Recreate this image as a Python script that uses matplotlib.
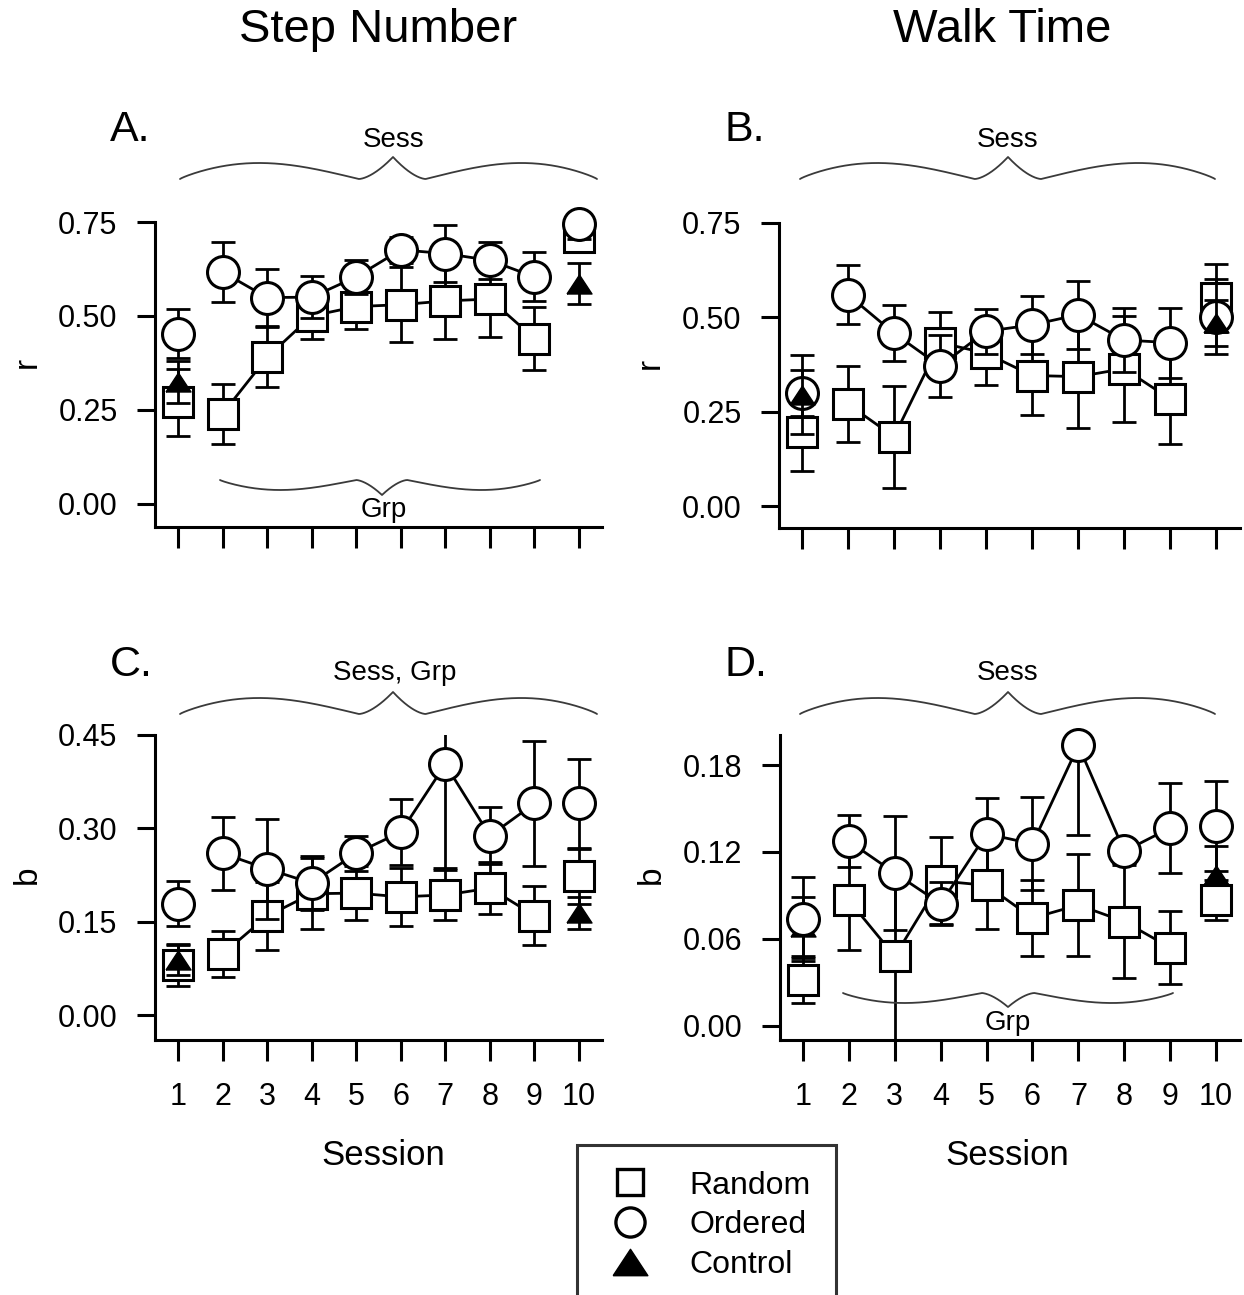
import numpy as np
import matplotlib
matplotlib.use('Agg')
import matplotlib.pyplot as plt
from matplotlib.lines import Line2D

plt.rcParams['font.family'] = ['Liberation Sans', 'DejaVu Sans']

# ---------------- data ----------------
sessions = [1, 2, 3, 4, 5, 6, 7, 8, 9, 10]
control_sessions = [1, 10]

# A. Step Number, r
stepR_random = [0.27, 0.24, 0.39, 0.50, 0.525, 0.53, 0.54, 0.545, 0.44, 0.71]
stepR_random_err = [0.09, 0.08, 0.08, 0.06, 0.06, 0.10, 0.10, 0.10, 0.085, 0.04]
stepR_ordered = [0.453, 0.617, 0.549, 0.55, 0.604, 0.676, 0.666, 0.648, 0.604, 0.746]
stepR_ordered_err = [0.065, 0.08, 0.075, 0.055, 0.045, 0.035, 0.075, 0.05, 0.065, 0.04]
stepR_control = [0.324, 0.586]
stepR_control_err = [0.055, 0.055]

# B. Walk Time, r
walkR_random = [0.197, 0.27, 0.184, 0.433, 0.405, 0.346, 0.343, 0.364, 0.284, 0.551]
walkR_random_err = [0.105, 0.10, 0.135, 0.08, 0.085, 0.105, 0.135, 0.14, 0.12, 0.09]
walkR_ordered = [0.30, 0.56, 0.458, 0.371, 0.463, 0.48, 0.507, 0.44, 0.433, 0.502]
walkR_ordered_err = [0.06, 0.078, 0.074, 0.083, 0.06, 0.077, 0.09, 0.085, 0.093, 0.10]
walkR_control = [0.295, 0.485]
walkR_control_err = [0.105, 0.06]

# C. Step Number, b
stepB_random = [0.080, 0.098, 0.159, 0.195, 0.196, 0.190, 0.193, 0.204, 0.160, 0.223]
stepB_random_err = [0.033, 0.037, 0.055, 0.057, 0.044, 0.047, 0.040, 0.042, 0.048, 0.044]
stepB_ordered = [0.179, 0.260, 0.235, 0.212, 0.260, 0.294, 0.403, 0.288, 0.340, 0.340]
stepB_ordered_err = [0.036, 0.059, 0.080, 0.043, 0.028, 0.053, 0.166, 0.046, 0.100, 0.072]
stepB_control = [0.089, 0.164]
stepB_control_err = [0.025, 0.025]

# D. Walk Time, b
walkB_random = [0.032, 0.0866, 0.048, 0.100, 0.097, 0.0744, 0.0834, 0.072, 0.054, 0.0869]
walkB_random_err = [0.016, 0.034, 0.060, 0.030, 0.030, 0.026, 0.035, 0.039, 0.025, 0.014]
walkB_ordered = [0.0737, 0.1274, 0.1055, 0.0843, 0.1325, 0.1256, 0.1935, 0.1205, 0.1366, 0.1378]
walkB_ordered_err = [0.029, 0.018, 0.039, 0.015, 0.025, 0.032, 0.062, 0.008, 0.031, 0.031]
walkB_control = [0.068, 0.104]
walkB_control_err = [0.021, 0.020]

r_ticks = [0.00, 0.25, 0.50, 0.75]
bstep_ticks = [0.00, 0.15, 0.30, 0.45]
bwalk_ticks = [0.00, 0.06, 0.12, 0.18]

# ---------------- figure ----------------
W, H = 1244, 1295
DPI = 100
fig = plt.figure(figsize=(W / DPI, H / DPI), dpi=DPI)


def rect(l, r, t, b):
    return [l / W, 1 - b / H, (r - l) / W, (b - t) / H]


LW = 2.0
MEW = 2.2
TRI = [(-1, -0.76), (1, -0.76), (0, 0.76), (-1, -0.76)]


def draw(ax, rnd, rnd_e, ordd, ord_e, ctl, ctl_e, ctl_z):
    x = np.array(sessions)
    rnd = np.array(rnd)
    ordd = np.array(ordd)
    ax.errorbar(x, rnd, yerr=rnd_e, fmt='none', ecolor='black', elinewidth=LW,
                capsize=8.3, capthick=LW, zorder=2)
    ax.plot(x[1:9], rnd[1:9], '-', color='black', lw=LW, zorder=2.5)
    ax.plot(x, rnd, 's', ms=21, mfc='white', mec='black', mew=MEW, zorder=3,
            clip_on=False)
    ax.errorbar(x, ordd, yerr=ord_e, fmt='none', ecolor='black', elinewidth=LW,
                capsize=8.3, capthick=LW, zorder=4)
    ax.plot(x[1:9], ordd[1:9], '-', color='black', lw=LW, zorder=4.5)
    ax.plot(x, ordd, 'o', ms=23, mfc='white', mec='black', mew=MEW, zorder=5,
            clip_on=False)
    ax.errorbar(control_sessions, ctl, yerr=ctl_e, fmt='none', ecolor='black',
                elinewidth=LW, capsize=8.3, capthick=LW, zorder=ctl_z)
    ax.plot(control_sessions, ctl, marker=TRI, ls='none', ms=18, mfc='black',
            mec='black', mew=1, zorder=ctl_z + 0.1, clip_on=False)


def style(ax, xlim, ylim, yticks, show_x):
    ax.set_xlim(*xlim)
    ax.set_ylim(*ylim)
    for s in ['top', 'right']:
        ax.spines[s].set_visible(False)
    for s in ['left', 'bottom']:
        ax.spines[s].set_linewidth(2.2)
    ax.set_xticks(sessions)
    ax.set_xticklabels([str(s) for s in sessions])
    ax.set_yticks(yticks)
    ax.set_yticklabels(['%.2f' % v for v in yticks])
    ax.tick_params(axis='both', direction='out', width=2.2, labelsize=22)
    ax.tick_params(axis='y', length=13, pad=14)
    ax.tick_params(axis='x', length=15, pad=15, labelbottom=show_x)
    ax.patch.set_visible(False)


axA = fig.add_axes(rect(155, 602, 222, 527))
axB = fig.add_axes(rect(779, 1240, 223, 528))
axC = fig.add_axes(rect(155, 602, 735, 1040))
axD = fig.add_axes(rect(780, 1240, 735, 1040))

draw(axA, stepR_random, stepR_random_err, stepR_ordered, stepR_ordered_err,
     stepR_control, stepR_control_err, 6)
draw(axB, walkR_random, walkR_random_err, walkR_ordered, walkR_ordered_err,
     walkR_control, walkR_control_err, 6)
draw(axC, stepB_random, stepB_random_err, stepB_ordered, stepB_ordered_err,
     stepB_control, stepB_control_err, 6)
draw(axD, walkB_random, walkB_random_err, walkB_ordered, walkB_ordered_err,
     walkB_control, walkB_control_err, 1.5)

style(axA, (0.484, 10.516), (-0.0615, 0.75), r_ticks, False)
style(axB, (0.50, 10.52), (-0.058, 0.75), r_ticks, False)
style(axC, (0.484, 10.516), (-0.040, 0.45), bstep_ticks, True)
style(axD, (0.50, 10.52), (-0.0097, 0.2007), bwalk_ticks, True)

for ax, lab, lx, ly in [(axA, 'r', -0.2864, 0.538), (axB, 'r', -0.280, 0.538),
                        (axC, 'b', -0.2864, 0.541), (axD, 'b', -0.280, 0.541)]:
    ax.set_ylabel(lab, fontsize=24)
    ax.yaxis.set_label_coords(lx, ly)
    ax.yaxis.label.set_va('center')

for ax, lx in [(axC, 0.51), (axD, 0.4935)]:
    ax.set_xlabel('Session', fontsize=25)
    ax.xaxis.set_label_coords(lx, -0.378)
    ax.xaxis.label.set_va('center')

# ---------------- overlay: titles, panel labels, braces ----------------
ov = fig.add_axes([0, 0, 1, 1])
ov.set_xlim(0, W)
ov.set_ylim(H, 0)
ov.axis('off')


def brace(x0, x1, xm, yb, h1, h2, up=True):
    t = np.linspace(0, 1, 300)
    s = np.clip(t / 0.84, 0, 1)
    y = np.where(t <= 0.84, h1 * np.sin(np.pi * s ** 0.85),
                 h2 * (np.clip(t - 0.84, 0, None) / 0.16) ** 1.6)
    lx = x0 + (xm - x0) * t
    rx = x1 - (x1 - xm) * t
    sign = -1 if up else 1
    xs = np.concatenate([lx, rx[::-1]])
    ys = yb + sign * np.concatenate([y, y[::-1]])
    ov.plot(xs, ys, color='#3a3a3a', lw=1.3, solid_capstyle='round')


brace(180, 597, 393, 179, 16, 22, up=True)
brace(800, 1215, 1008, 179, 16, 22, up=True)
brace(180, 597, 393, 714, 16, 22, up=True)
brace(800, 1215, 1008, 714, 16, 22, up=True)
brace(220, 540, 382, 480, 10, 15, up=False)
brace(843, 1173, 1008, 993, 10, 14, up=False)

ov.text(394, 140, 'Sess', fontsize=20, ha='center', va='center')
ov.text(1008, 140, 'Sess', fontsize=20, ha='center', va='center')
ov.text(395, 673, 'Sess, Grp', fontsize=20, ha='center', va='center')
ov.text(1008, 673, 'Sess', fontsize=20, ha='center', va='center')
ov.text(384, 510, 'Grp', fontsize=20, ha='center', va='center')
ov.text(1008, 1023, 'Grp', fontsize=20, ha='center', va='center')

ov.text(378, 30, 'Step Number', fontsize=34, ha='center', va='center')
ov.text(1002, 30, 'Walk Time', fontsize=34, ha='center', va='center')

ov.text(110, 130, 'A.', fontsize=31, ha='left', va='center')
ov.text(724, 130, 'B.', fontsize=31, ha='left', va='center')
ov.text(110, 665, 'C.', fontsize=31, ha='left', va='center')
ov.text(724, 665, 'D.', fontsize=31, ha='left', va='center')

# ---------------- legend ----------------
handles = [
    Line2D([], [], ls='none', marker='s', ms=19, mfc='white', mec='black', mew=2.4),
    Line2D([], [], ls='none', marker='o', ms=21, mfc='white', mec='black', mew=2.4),
    Line2D([], [], ls='none', marker=TRI, ms=25, mfc='black', mec='black', mew=1),
]
leg = fig.legend(handles, ['Random', 'Ordered', 'Control'], loc='upper left',
                 bbox_to_anchor=(577 / W, 1 - 1145 / H), frameon=True,
                 fancybox=False, edgecolor='black', fontsize=23, borderpad=0.8,
                 handlelength=1.71, handletextpad=1.0, labelspacing=0.30,
                 borderaxespad=0)
leg.get_frame().set_linewidth(2.2)

fig.savefig('out.png', dpi=DPI)
